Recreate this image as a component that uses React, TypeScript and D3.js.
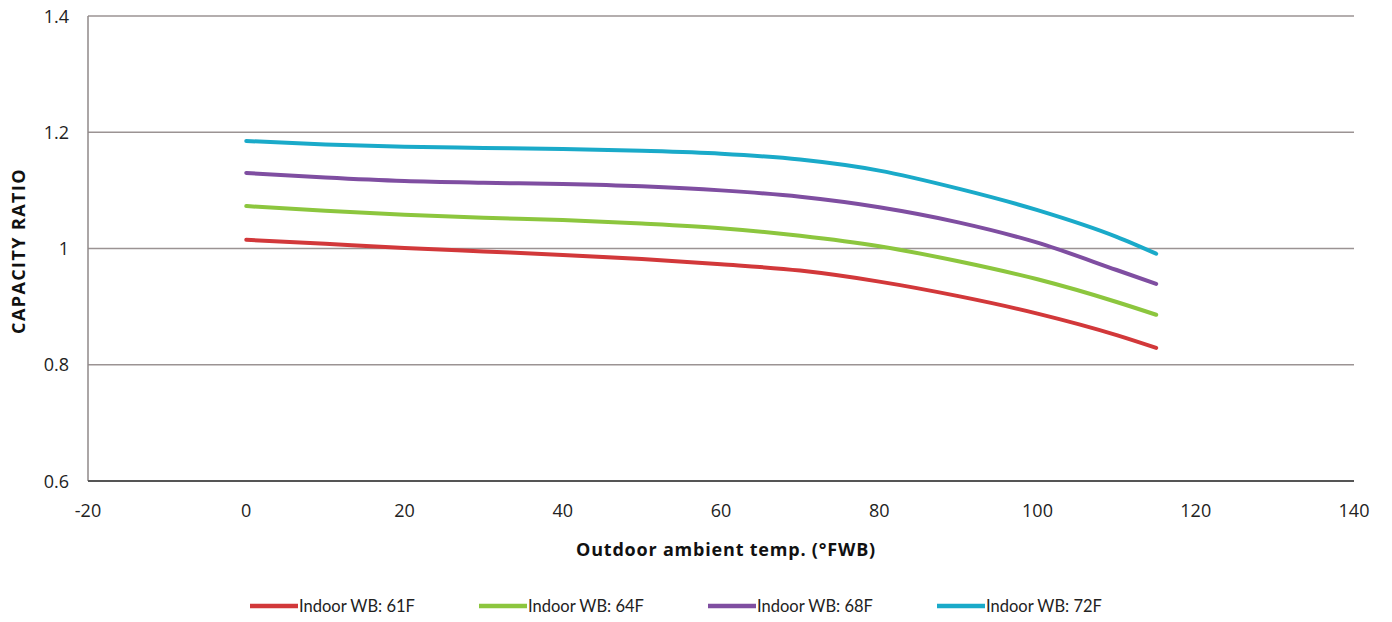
import React from "react";
import * as d3 from "d3";

const temps = [0, 10, 20, 30, 40, 50, 60, 70, 80, 90, 100, 110, 115];
const wb61 = [1.015, 1.008, 1.001, 0.995, 0.989, 0.982, 0.973, 0.962, 0.943, 0.918, 0.888, 0.851, 0.829];
const wb64 = [1.073, 1.065, 1.058, 1.053, 1.049, 1.043, 1.035, 1.022, 1.004, 0.978, 0.947, 0.908, 0.886];
const wb68 = [1.130, 1.122, 1.116, 1.113, 1.111, 1.107, 1.100, 1.089, 1.071, 1.045, 1.010, 0.963, 0.939];
const wb72 = [1.185, 1.179, 1.175, 1.173, 1.171, 1.168, 1.163, 1.153, 1.134, 1.103, 1.066, 1.020, 0.991];
const seriesNames = ["Indoor WB: 61F", "Indoor WB: 64F", "Indoor WB: 68F", "Indoor WB: 72F"];
const seriesValues = [wb61, wb64, wb68, wb72];
const seriesColors = ["#d2383a", "#8cc63e", "#7f4ea1", "#1aaac9"];
const xTicks = [-20, 0, 20, 40, 60, 80, 100, 120, 140];
const yTicks = [0.6, 0.8, 1.0, 1.2, 1.4];

export default function App() {
  const W = 1392, H = 622;
  const left = 88, right = 1354, top = 16, bottom = 481;
  const x = d3.scaleLinear().domain([-20, 140]).range([left, right]);
  const y = d3.scaleLinear().domain([0.6, 1.4]).range([bottom, top]);
  const line = d3
    .line<number>()
    .x((_, i) => x(temps[i]))
    .y((d) => y(d))
    .curve(d3.curveMonotoneX);
  const font = "'Open Sans', sans-serif";
  const legendFont = "Lato, sans-serif";
  const legendX = [250, 479, 708, 937];
  return (
    <svg width={W} height={H} style={{ position: "absolute", left: 0, top: 0, background: "#fff" }} fontFamily={font}>
      {yTicks.slice(1).map((t) => (
        <line key={t} x1={left} x2={right} y1={y(t)} y2={y(t)} stroke="#9b9393" strokeWidth={1.3} />
      ))}
      <line x1={left} x2={left} y1={top} y2={bottom} stroke="#8f8888" strokeWidth={1.5} />
      <line x1={left} x2={right} y1={bottom} y2={bottom} stroke="#555" strokeWidth={1.8} />
      {yTicks.map((t) => (
        <text key={t} x={69} y={y(t) + 6.5} textAnchor="end" fontSize={18} fill="#222">
          {t === 1 ? "1" : t.toFixed(1)}
        </text>
      ))}
      {xTicks.map((t) => (
        <text key={t} x={x(t)} y={517} textAnchor="middle" fontSize={18} fill="#222">
          {t}
        </text>
      ))}
      <text x={726} y={556} textAnchor="middle" fontSize={18} fontWeight="bold" letterSpacing={0.8} fill="#111">
        Outdoor ambient temp. (°FWB)
      </text>
      <text
        transform={`translate(25, 251) rotate(-90)`}
        textAnchor="middle"
        fontSize={18}
        fontWeight="bold"
        letterSpacing={1.4}
        fill="#111"
      >
        CAPACITY RATIO
      </text>
      {seriesValues.map((vals, i) => (
        <path key={i} d={line(vals) || ""} fill="none" stroke={seriesColors[i]} strokeWidth={4} strokeLinecap="round" />
      ))}
      {seriesNames.map((n, i) => (
        <g key={n} transform={`translate(${legendX[i]}, 606)`} fontFamily={legendFont}>
          <line x1={0} x2={48} y1={0} y2={0} stroke={seriesColors[i]} strokeWidth={4.5} />
          <text x={49} y={6} fontSize={16.5} fill="#222">
            {n}
          </text>
        </g>
      ))}
    </svg>
  );
}
